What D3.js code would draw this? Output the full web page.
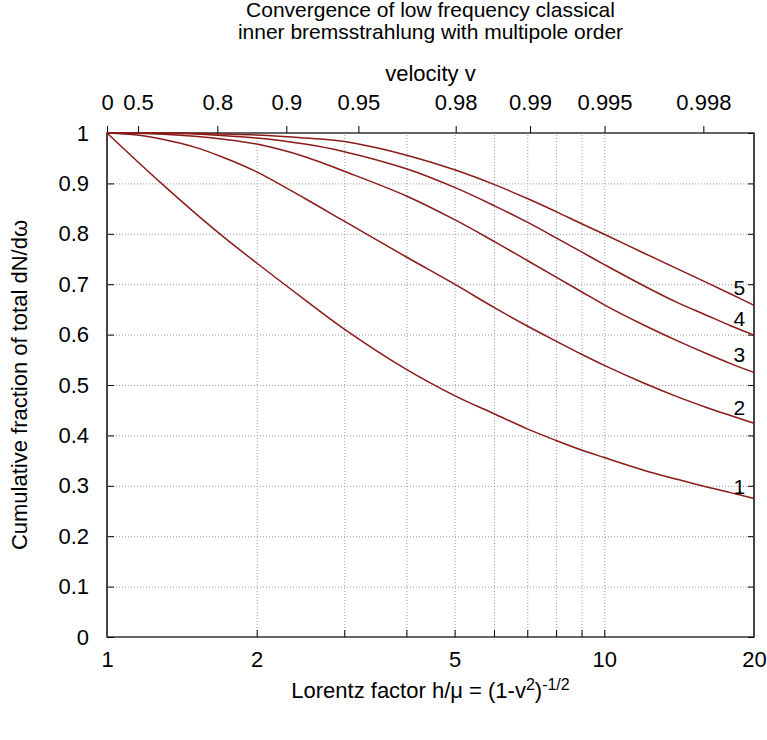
<!DOCTYPE html>
<html>
<head>
<meta charset="utf-8">
<script src="https://cdn.jsdelivr.net/npm/d3@7"></script>
<style>
  body { margin: 0; background: #fff; }
  svg { font-family: "Liberation Sans", Arial, sans-serif; }
  .tick text { font-size: 22px; fill: #000; }
  .grid line { stroke: #9a9a9a; stroke-dasharray: 1,2; }
  .grid path { display: none; }
</style>
</head>
<body>
<div id="chart-container"></div>
<script>
// Lorentz factor sample points (bottom axis)
const gammas = [1, 1.15, 1.3, 1.5, 1.7, 2, 2.5, 3, 4, 5, 6, 7, 8, 9, 10, 12, 14, 16, 18, 20];

// cumulative fraction up to multipole order 1..5
const order1 = [1, 0.944, 0.896, 0.842, 0.797, 0.742, 0.669, 0.611, 0.531, 0.479, 0.443, 0.413, 0.390, 0.371, 0.356, 0.331, 0.313, 0.298, 0.286, 0.275];
const order2 = [1, 0.996, 0.987, 0.972, 0.953, 0.923, 0.870, 0.825, 0.754, 0.700, 0.654, 0.617, 0.587, 0.561, 0.539, 0.504, 0.477, 0.456, 0.439, 0.424];
const order3 = [1, 0.9993, 0.9975, 0.9935, 0.988, 0.978, 0.953, 0.924, 0.875, 0.828, 0.785, 0.747, 0.714, 0.685, 0.659, 0.619, 0.588, 0.563, 0.542, 0.525];
const order4 = [1, 1.000, 0.9995, 0.998, 0.995, 0.990, 0.978, 0.963, 0.929, 0.892, 0.856, 0.823, 0.792, 0.764, 0.739, 0.697, 0.664, 0.639, 0.617, 0.599];
const order5 = [1, 1.000, 1.000, 0.9995, 0.998, 0.996, 0.990, 0.983, 0.956, 0.927, 0.898, 0.870, 0.844, 0.820, 0.799, 0.762, 0.731, 0.704, 0.680, 0.658];

const curveLabels = ["1", "2", "3", "4", "5"];
const labelY = [0.298, 0.456, 0.561, 0.633, 0.693];

// tick labels
const xTicks = [1, 2, 3, 4, 5, 6, 7, 8, 9, 10, 20];
const xLabelled = [1, 2, 5, 10, 20];
const velocityTicks = [0, 0.5, 0.8, 0.9, 0.95, 0.98, 0.99, 0.995, 0.998];
const yTicks = [0, 0.1, 0.2, 0.3, 0.4, 0.5, 0.6, 0.7, 0.8, 0.9, 1];

const W = 767, H = 740;
const margin = { top: 133, right: 13, bottom: 103, left: 107 };
const width = W - margin.left - margin.right;
const height = H - margin.top - margin.bottom;

const svg = d3.select("#chart-container")
  .append("svg")
  .attr("width", W)
  .attr("height", H);

const x = d3.scaleLog().domain([1, 20]).range([0, width]);
const y = d3.scaleLinear().domain([0, 1]).range([height, 0]);
const lorentz = v => 1 / Math.sqrt(1 - v * v);

const chart = svg.append("g").attr("transform", `translate(${margin.left},${margin.top})`);

// grid
chart.append("g")
  .attr("class", "grid")
  .call(d3.axisLeft(y).tickValues(yTicks.slice(1, -1)).tickSize(-width).tickFormat(""));
chart.append("g")
  .attr("class", "grid")
  .attr("transform", `translate(0,${height})`)
  .call(d3.axisBottom(x).tickValues(xTicks.slice(1, -1)).tickSize(-height).tickFormat(""));

// axes (ticks point inward like gnuplot)
chart.append("g")
  .call(d3.axisLeft(y).tickValues(yTicks).tickSizeInner(-7).tickSizeOuter(0).tickPadding(18)
    .tickFormat(d => +d.toFixed(1)));
chart.append("g")
  .attr("transform", `translate(${width},0)`)
  .call(d3.axisRight(y).tickValues(yTicks).tickSizeInner(-6).tickSizeOuter(0).tickFormat(""));

chart.append("g")
  .attr("transform", `translate(0,${height})`)
  .call(d3.axisBottom(x).tickValues(xTicks).tickSizeInner(-7).tickSizeOuter(0).tickPadding(14)
    .tickFormat(d => xLabelled.includes(d) ? d : ""));

chart.append("g")
  .call(d3.axisTop(x).tickValues(velocityTicks.map(lorentz)).tickSizeInner(7).tickSizeOuter(0).tickPadding(16)
    .tickFormat((d, i) => velocityTicks[i]));

chart.selectAll(".domain").attr("stroke", "none");

// border
chart.append("rect")
  .attr("width", width)
  .attr("height", height)
  .attr("fill", "none")
  .attr("stroke", "#000")
  .attr("stroke-width", 1.2);
chart.append("line").attr("x1", 0).attr("x2", 0).attr("y1", 0).attr("y2", height)
  .attr("stroke", "#444").attr("stroke-width", 2);
chart.append("line").attr("x1", width).attr("x2", width).attr("y1", 0).attr("y2", height)
  .attr("stroke", "#444").attr("stroke-width", 2);

// curves
const series = [order1, order2, order3, order4, order5];
const line = d3.line()
  .x(d => x(d[0]))
  .y(d => y(d[1]))
  .curve(d3.curveCatmullRom.alpha(0.5));

chart.selectAll()
  .data(series)
  .enter()
  .append("path")
  .attr("fill", "none")
  .attr("stroke", "#8b1a1a")
  .attr("stroke-width", 1.5)
  .attr("d", s => line(gammas.map((g, i) => [g, s[i]])));

chart.selectAll()
  .data(curveLabels)
  .enter()
  .append("text")
  .attr("x", x(19.2))
  .attr("y", (d, i) => y(labelY[i]))
  .attr("dy", "0.36em")
  .attr("text-anchor", "end")
  .attr("font-size", 21)
  .text(d => d);

// titles
const title = svg.append("text")
  .attr("text-anchor", "middle")
  .attr("font-size", 21);
title.append("tspan").attr("x", margin.left + width / 2).attr("y", 17).text("Convergence of low frequency classical");
title.append("tspan").attr("x", margin.left + width / 2).attr("y", 39).text("inner bremsstrahlung with multipole order");

svg.append("text")
  .attr("x", margin.left + width / 2)
  .attr("y", 81)
  .attr("text-anchor", "middle")
  .attr("font-size", 22)
  .text("velocity v");

const xlab = svg.append("text")
  .attr("x", margin.left + width / 2)
  .attr("y", 698)
  .attr("text-anchor", "middle")
  .attr("font-size", 22);
xlab.append("tspan").text("Lorentz factor h/μ = (1-v");
xlab.append("tspan").attr("baseline-shift", "super").attr("font-size", 16).text("2");
xlab.append("tspan").text(")");
xlab.append("tspan").attr("baseline-shift", "super").attr("font-size", 16).text("-1/2");

svg.append("text")
  .attr("transform", `translate(27,${margin.top + height / 2}) rotate(-90)`)
  .attr("text-anchor", "middle")
  .attr("font-size", 22)
  .text("Cumulative fraction of total dN/dω");
</script>
</body>
</html>
